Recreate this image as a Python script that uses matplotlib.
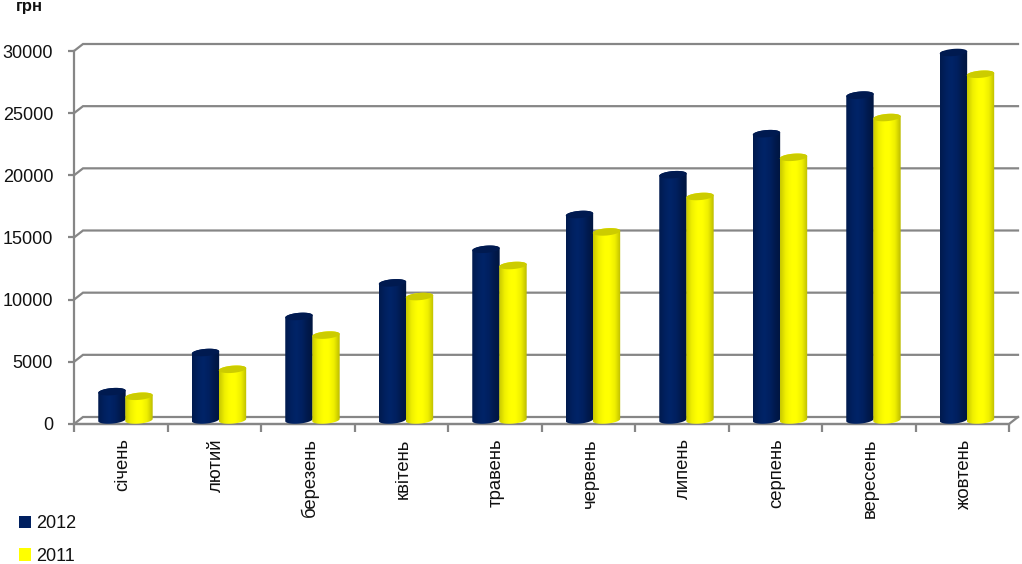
import matplotlib
matplotlib.use('Agg')
import matplotlib.pyplot as plt
from matplotlib.colors import LinearSegmentedColormap
from matplotlib.patches import Patch, Polygon
import numpy as np

plt.rcParams['font.family'] = ['Liberation Sans', 'DejaVu Sans']

months = ['січень', 'лютий', 'березень', 'квітень', 'травень',
          'червень', 'липень', 'серпень', 'вересень', 'жовтень']
values_2012 = [2600, 5750, 8650, 11350, 14050, 16850, 20050, 23350, 26450, 29880]
values_2011 = [2230, 4400, 7150, 10250, 12750, 15450, 18300, 21450, 24650, 28130]
y_ticks = [0, 5000, 10000, 15000, 20000, 25000, 30000]

W, H = 1022, 564
GRID = '#868686'
TEXT = '#111111'

fig = plt.figure(figsize=(W / 100, H / 100), dpi=100)
# axes = front plane of the fake 3d box
ax = fig.add_axes([74 / W, 1 - 424 / H, 935 / W, 373 / H])
ax.set_facecolor('none')

px_x = 10 / 935
px_y = 30000 / 373
dx = 9 * px_x
dy = 7 * px_y

# walls
for v in y_ticks:
    ax.plot([0, dx, 10 + dx], [v, v + dy, v + dy], color=GRID, lw=1.6, clip_on=False,
            solid_joinstyle='miter', zorder=1)
ax.plot([0, 10, 10 + dx], [0, 0, dy], color=GRID, lw=1.6, clip_on=False, zorder=1)


def ellipse_pts(x, y, width, t):
    # tilted ellipse, worked out in pixels because the axes are not square
    a = width / px_x / 2
    b = 3.6
    ang = np.radians(5)
    ex = a * np.cos(t) * np.cos(ang) - b * np.sin(t) * np.sin(ang)
    ey = a * np.cos(t) * np.sin(ang) + b * np.sin(t) * np.cos(ang)
    return np.column_stack([x + ex * px_x, y + ey * px_y])


def cylinder(x, val, width, colors, top_colors, z):
    base = 4 * px_y
    cmap = LinearSegmentedColormap.from_list('c', colors)
    grad = np.linspace(0, 1, 64).reshape(1, -1)
    im = ax.imshow(grad, extent=(x - width / 2, x + width / 2, -2 * px_y, val + 6 * px_y),
                   cmap=cmap, aspect='auto', zorder=z, interpolation='bilinear')
    # silhouette: front of the foot + back of the top
    outline = np.vstack([ellipse_pts(x, base, width, np.linspace(np.pi, 2 * np.pi, 40)),
                         ellipse_pts(x, val, width, np.linspace(0, np.pi, 40))])
    shape = Polygon(outline, closed=True, transform=ax.transData, facecolor='none', edgecolor='none')
    ax.add_patch(shape)
    im.set_clip_path(shape)
    top = Polygon(ellipse_pts(x, val, width, np.linspace(0, 2 * np.pi, 80)), closed=True,
                  facecolor=top_colors, edgecolor='none', zorder=z + 0.1, clip_on=False)
    ax.add_patch(top)


navy = ['#001a4d', '#00205f', '#002468', '#002060', '#001a4d', '#00153f']
yellow = ['#c8c800', '#f0f000', '#ffff00', '#ffff00', '#eeee00', '#bcbc00']
bar_w = 27.5 * px_x

for i in range(len(months)):
    cylinder(i + 0.406, values_2012[i], bar_w, navy, '#001a50', 3)
    cylinder(i + 0.695, values_2011[i], bar_w, yellow, '#cccc00', 4)

ax.set_xlim(0, 10)
ax.set_ylim(0, 30000)
ax.set_xticks(range(11))
ax.set_xticklabels([])
ax.set_yticks(y_ticks)
ax.set_yticklabels([str(v) for v in y_ticks], fontsize=13, color=TEXT)
ax.tick_params(axis='y', length=4, width=1.6, color=GRID, pad=11)
ax.tick_params(axis='x', length=6, width=1.6, color=GRID)
for s in ['top', 'right']:
    ax.spines[s].set_visible(False)
for s in ['left', 'bottom']:
    ax.spines[s].set_color(GRID)
    ax.spines[s].set_linewidth(1.6)

for i, m in enumerate(months):
    ax.text(i + 0.52, -1150, m, rotation=90, ha='center', va='top', fontsize=13.3, color=TEXT)

fig.text(29 / W, 1 - 11 / H, 'грн', fontsize=12, fontweight='bold', ha='center', va='baseline', color=TEXT)

handles = [Patch(facecolor='#002060', label='2012'), Patch(facecolor='#ffff00', label='2011')]
ax.legend(handles=handles, loc='upper left', bbox_to_anchor=(19 / W, 1 - 515 / H),
          bbox_transform=fig.transFigure, frameon=False, fontsize=13, handlelength=0.67, handleheight=0.67,
          handletextpad=0.3, labelspacing=0.87, borderpad=0, borderaxespad=0, labelcolor=TEXT)

fig.savefig('out.png', dpi=100)
